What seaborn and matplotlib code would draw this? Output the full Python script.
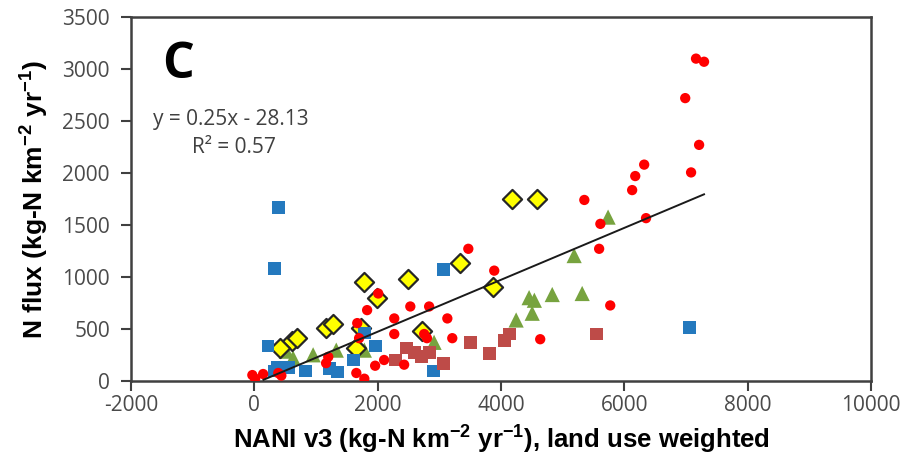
import numpy as np
import pandas as pd
import seaborn as sns
import matplotlib.pyplot as plt

# Red circles
red_x = [7160, 7290, 6985, 7210, 7080, 6320, 6175, 6125, 5350, 6350, 5610, 5590, 5770, 4635,
         3470, 3890, 2530, 2835, 2270, 3130, 2270, 2755, 2800, 3210, 2105, 2430,
         2010, 1830, 1670, 1700, 1200, 1165, 1960, 1655, 1785, -30, 15, 145, 390, 440]
red_y = [3100, 3070, 2720, 2270, 2005, 2080, 1970, 1835, 1740, 1565, 1510, 1270, 725, 400,
         1270, 1060, 715, 715, 600, 600, 450, 450, 410, 410, 200, 155,
         840, 680, 555, 410, 230, 170, 145, 75, 20, 55, 20, 65, 75, 50]

# Blue squares
blue_x = [390, 325, 225, 375, 550, 325, 825, 1215, 1345, 1605, 1785, 1960, 3065, 2900, 7050]
blue_y = [1665, 1080, 335, 125, 125, 95, 95, 115, 85, 200, 460, 335, 1070, 95, 515]

# Dark red squares
brown_x = [2285, 2465, 2595, 2705, 2835, 3065, 3500, 3810, 4050, 4135, 5545]
brown_y = [200, 315, 275, 230, 275, 170, 365, 260, 390, 450, 450]

# Green triangles
green_x = [520, 630, 955, 1330, 1785, 2915, 4245, 4505, 4455, 4540, 4830, 5315, 5185, 5735]
green_y = [285, 220, 250, 295, 295, 370, 585, 650, 800, 775, 830, 840, 1205, 1575]

# Yellow diamonds
yellow_x = [1785, 1995, 1165, 1280, 615, 695, 420, 1735, 1655, 4180, 4590, 3340, 2495, 3875, 2725]
yellow_y = [955, 795, 505, 545, 380, 410, 315, 505, 315, 1750, 1750, 1135, 975, 900, 480]

slope, intercept = 0.25, -28.13

plt.rcParams["axes.unicode_minus"] = False
plt.rcParams["mathtext.fontset"] = "custom"
plt.rcParams["mathtext.rm"] = "Liberation Sans:bold"
plt.rcParams["mathtext.default"] = "rm"

plt.figure(figsize=(9.21, 4.61), dpi=100)
ax = plt.gca()
plt.subplots_adjust(left=0.142, right=0.946, top=0.963, bottom=0.174)

sns.scatterplot(x=green_x, y=green_y, marker="^", s=120, color="#77A33F", edgecolor="none", ax=ax, zorder=3)
sns.scatterplot(x=yellow_x, y=yellow_y, marker="D", s=95, color="#FFFF00", edgecolor="#262626",
                linewidth=1.6, ax=ax, zorder=4)
sns.scatterplot(x=blue_x, y=blue_y, marker="s", s=85, color="#2479BE", edgecolor="none", ax=ax, zorder=5)
sns.scatterplot(x=brown_x, y=brown_y, marker="s", s=85, color="#BE4B48", edgecolor="none", ax=ax, zorder=5)
sns.scatterplot(x=red_x, y=red_y, marker="o", s=55, color="#FF0000", edgecolor="none", ax=ax, zorder=6)

# Trendline over the data range
all_x = red_x + blue_x + brown_x + green_x + yellow_x
lx = np.array([150, max(all_x)])
ax.plot(lx, slope * lx + intercept, color="#1a1a1a", lw=1.4, zorder=7)

ax.set_xlim(-2000, 10000)
ax.set_ylim(0, 3500)
ax.set_xticks(range(-2000, 10001, 2000))
ax.set_yticks(range(0, 3501, 500))
for sp in ax.spines.values():
    sp.set_color("#404040")
    sp.set_linewidth(1.8)
ax.tick_params(direction="out", length=7, width=1.5, color="#404040", labelsize=15,
               labelcolor="#4a4a4a")
ax.tick_params(axis="y", pad=8)
for lab in ax.get_xticklabels() + ax.get_yticklabels():
    lab.set_family("Open Sans")

ax.set_xlabel("NANI v3 (kg-N km$^{-2}$ yr$^{-1}$), land use weighted", fontsize=18.5,
              fontweight="bold", family="Liberation Sans", labelpad=5)
ax.set_ylabel("N flux (kg-N km$^{-2}$ yr$^{-1}$)", fontsize=19, fontweight="bold",
              family="Liberation Sans", labelpad=8)

ax.text(0.043, 0.868, "C", transform=ax.transAxes, fontsize=36, fontweight="bold",
        family="Open Sans", va="center", ha="left")
ax.text(0.03, 0.717, "y = 0.25x - 28.13", transform=ax.transAxes, fontsize=15,
        family="Open Sans", color="#404040", va="center", ha="left")
ax.text(0.082, 0.64, "R² = 0.57", transform=ax.transAxes, fontsize=15,
        family="Open Sans", color="#404040", va="center", ha="left")

plt.savefig("out.png", dpi=100)
